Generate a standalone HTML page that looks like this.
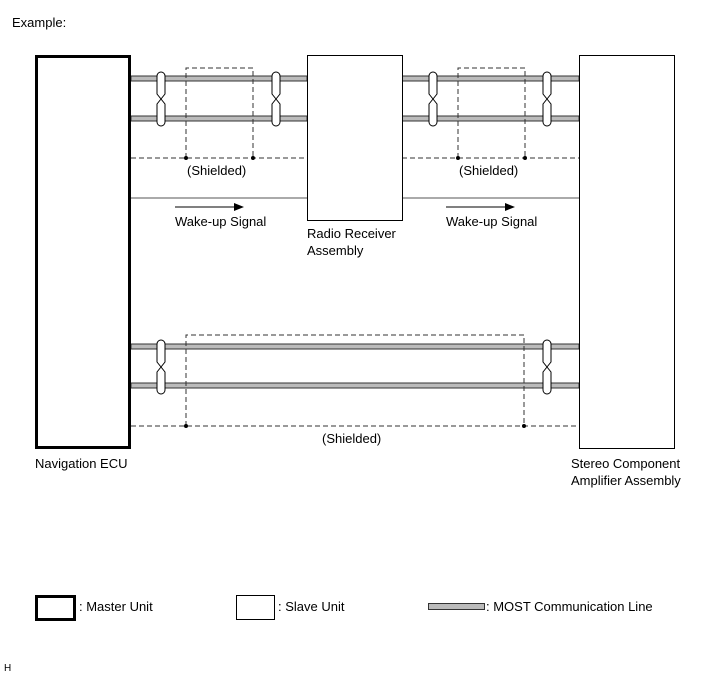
<!DOCTYPE html><html><head><style>body{margin:0;background:#fff}svg{display:block}text{font-family:"Liberation Sans",sans-serif;font-size:13px;fill:#000}</style></head><body>
<svg width="713" height="681" viewBox="0 0 713 681" xmlns="http://www.w3.org/2000/svg">
<defs>
<g id="tw"><path d="M-4,4 A4,4 0 0 1 4,4 L4,22 L-4,32 L-4,50 A4,4 0 0 0 4,50 L4,32 L-4,22 Z" fill="#fff" stroke="#000" stroke-width="1"/></g>
</defs>
<text x="12" y="27">Example:</text>
<g fill="#bbb" stroke="#333" stroke-width="1">
<rect x="131" y="76" width="176" height="5"/><rect x="131" y="116" width="176" height="5"/>
<rect x="402" y="76" width="177" height="5"/><rect x="402" y="116" width="177" height="5"/>
<rect x="131" y="344" width="448" height="5"/><rect x="131" y="383" width="448" height="5"/>
</g>
<g fill="none" stroke="#333" stroke-dasharray="5,3" stroke-width="1">
<path d="M186,158 V68 H253 V158"/><path d="M131,158 H307"/>
<path d="M458,158 V68 H525 V158"/><path d="M402,158 H579"/>
<path d="M186,426 V335 H524 V426"/><path d="M131,426 H579"/>
</g>
<g fill="#000"><circle cx="186" cy="158" r="2"/><circle cx="253" cy="158" r="2"/><circle cx="458" cy="158" r="2"/><circle cx="525" cy="158" r="2"/><circle cx="186" cy="426" r="2"/><circle cx="524" cy="426" r="2"/></g>
<use href="#tw" x="161" y="72"/><use href="#tw" x="276" y="72"/><use href="#tw" x="433" y="72"/><use href="#tw" x="547" y="72"/>
<use href="#tw" x="161" y="340"/><use href="#tw" x="547" y="340"/>
<path d="M131,198 H307 M402,198 H579" stroke="#555" stroke-width="1"/>
<path d="M175,207 H236 M446,207 H507" stroke="#000"/>
<path d="M244,207 L234,203 L234,211Z M515,207 L505,203 L505,211Z" fill="#000"/>
<text x="187" y="175">(Shielded)</text><text x="459" y="175">(Shielded)</text><text x="322" y="443">(Shielded)</text>
<text x="175" y="226">Wake-up Signal</text><text x="446" y="226">Wake-up Signal</text>
<rect x="36.5" y="56.5" width="93" height="391" fill="#fff" stroke="#000" stroke-width="3"/>
<rect x="307.5" y="55.5" width="95" height="165" fill="#fff" stroke="#000"/>
<rect x="579.5" y="55.5" width="95" height="393" fill="#fff" stroke="#000"/>
<text x="307" y="238">Radio Receiver</text><text x="307" y="255">Assembly</text>
<text x="35" y="468">Navigation ECU</text>
<text x="571" y="468">Stereo Component</text><text x="571" y="485">Amplifier Assembly</text>
<rect x="36.5" y="596.5" width="38" height="23" fill="#fff" stroke="#000" stroke-width="3"/>
<text x="79" y="611">: Master Unit</text>
<rect x="236.5" y="595.5" width="38" height="24" fill="#fff" stroke="#000"/>
<text x="278" y="611">: Slave Unit</text>
<rect x="428.5" y="603.5" width="56" height="6" fill="#bbb" stroke="#333"/>
<text x="486" y="611">: MOST Communication Line</text>
<text x="4" y="671" style="font-size:10px">H</text>
</svg></body></html>
